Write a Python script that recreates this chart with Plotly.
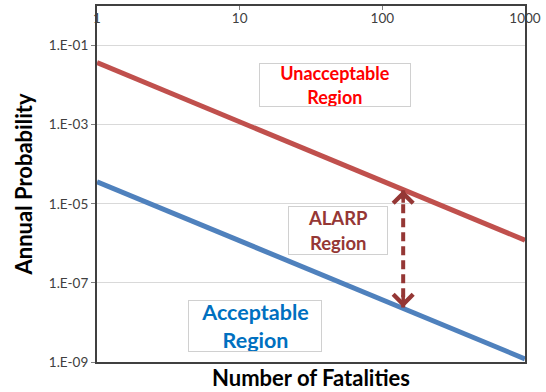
import plotly.graph_objects as go
import math

# Data
fatalities = [1, 1000]
upper_limit = [3.7e-2, 1.2e-6]      # red: boundary of unacceptable region
lower_limit = [3.6e-5, 1.2e-9]      # blue: boundary of acceptable region
arrow_n = 140
arrow_top = 2.2e-5
arrow_bottom = 2.4e-8

x_tickvals = [1, 10, 100, 1000]
x_ticktext = ["1", "10", "100", "1000"]
y_tickvals = [1e-1, 1e-3, 1e-5, 1e-7, 1e-9]
y_ticktext = ["1.E-01", "1.E-03", "1.E-05", "1.E-07", "1.E-09"]

FONT = "Lato"
RED = "#C0504D"
BLUE = "#4F81BD"
ARROW = "#953735"

fig = go.Figure()
fig.add_trace(go.Scatter(x=fatalities, y=upper_limit, mode="lines",
                         line=dict(color=RED, width=5), showlegend=False, hoverinfo="skip"))
fig.add_trace(go.Scatter(x=fatalities, y=lower_limit, mode="lines",
                         line=dict(color=BLUE, width=5), showlegend=False, hoverinfo="skip"))
# dashed ALARP arrow shaft
fig.add_trace(go.Scatter(x=[arrow_n, arrow_n], y=[arrow_top, arrow_bottom], mode="lines",
                         line=dict(color=ARROW, width=4, dash="9px,5px"),
                         showlegend=False, hoverinfo="skip"))

lx = math.log10(arrow_n)
# arrow heads
fig.add_annotation(x=lx, y=math.log10(arrow_top), xref="x", yref="y",
                   ax=0, ay=14, showarrow=True, arrowhead=4, arrowsize=1.1,
                   arrowwidth=3.5, arrowcolor=ARROW, text="", standoff=0)
fig.add_annotation(x=lx, y=math.log10(arrow_bottom), xref="x", yref="y",
                   ax=0, ay=-14, showarrow=True, arrowhead=4, arrowsize=1.1,
                   arrowwidth=3.5, arrowcolor=ARROW, text="", standoff=0)

def box(text, xlog, ylog, w, h, color, size):
    fig.add_annotation(x=xlog, y=ylog, xref="x", yref="y", showarrow=False,
                       text=text, width=w - 2, height=h - 2, borderpad=0,
                       bordercolor="#D0D0D0", borderwidth=1, bgcolor="white",
                       font=dict(family=FONT, size=size, color=color),
                       align="center", valign="middle")

box("<b>Unacceptable<br>Region</b>", 1.668, -2.0, 152, 44, "#FF0000", 18)
box("<b>ALARP<br>Region</b>", 1.689, -5.68, 100, 49, ARROW, 18.5)
box("<b>Acceptable<br>Region</b>", 1.107, -8.08, 134, 52, "#0070C0", 21.5)

# x-axis title at bottom
fig.add_annotation(x=0.5, y=-0.0436, xref="paper", yref="paper", yanchor="middle",
                   showarrow=False, text="<b>Number of Fatalities</b>",
                   font=dict(family=FONT, size=22, color="black"))

fig.update_xaxes(type="log", range=[0, 3], side="top",
                 tickvals=x_tickvals, ticktext=x_ticktext,
                 ticks="inside", ticklen=4, tickcolor="#808080",
                 ticklabelposition="inside", ticklabeloverflow="allow",
                 ticklabelstandoff=3,
                 tickfont=dict(family=FONT, size=13.5, color="#404040"),
                 showgrid=False, zeroline=False,
                 showline=True, linecolor="#404040", linewidth=2, mirror=True)
fig.update_yaxes(type="log", range=[-9, 0],
                 tickvals=y_tickvals, ticktext=y_ticktext,
                 ticks="outside", ticklen=4, tickcolor="#808080",
                 tickfont=dict(family=FONT, size=13.5, color="#404040"),
                 showgrid=True, gridcolor="#D9D9D9", gridwidth=1, zeroline=False,
                 showline=True, linecolor="#404040", linewidth=2, mirror=True,
                 title=dict(text="<b>Annual Probability</b>",
                            font=dict(family=FONT, size=22, color="black"),
                            standoff=10))

fig.update_layout(width=546, height=392, margin=dict(l=97, r=21, t=6, b=30, autoexpand=False),
                  plot_bgcolor="white", paper_bgcolor="white",
                  font=dict(family=FONT))

fig.write_html("out.html", config={"displayModeBar": False},
               post_script="document.body.style.margin='0';")
